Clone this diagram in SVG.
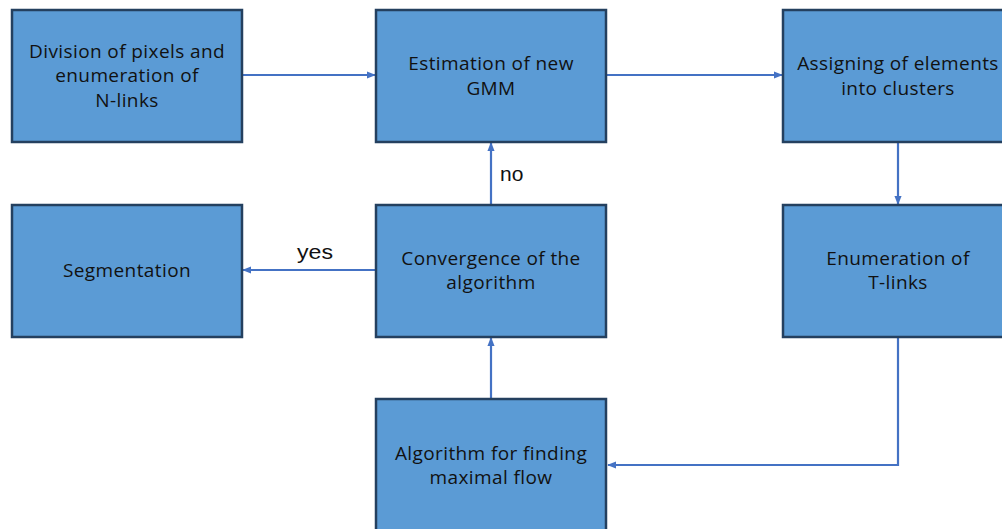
<svg xmlns="http://www.w3.org/2000/svg" width="1002" height="529" viewBox="0 0 1002 529">
<defs>
<style>
.box{fill:#5B9BD5;stroke:#24405F;stroke-width:2.5}
.t{font-family:"Open Sans","Liberation Sans",sans-serif;font-size:19px;letter-spacing:0.4px;fill:#111;text-anchor:middle}
.lbl{font-family:"Liberation Sans",Arial,sans-serif;font-size:21px;fill:#111}
.c{fill:none;stroke:#4472C4;stroke-width:2.2}
</style>
<marker id="ah" viewBox="0 0 10 10" refX="9" refY="5" markerWidth="9" markerHeight="9" markerUnits="userSpaceOnUse" orient="auto">
<path d="M0,1 L10,5 L0,9 Z" fill="#4472C4"/>
</marker>
</defs>
<rect width="1002" height="529" fill="#fff"/>
<g id="connectors">
<line class="c" x1="243" y1="75" x2="375" y2="75" marker-end="url(#ah)"/>
<line class="c" x1="607" y1="75" x2="782" y2="75" marker-end="url(#ah)"/>
<line class="c" x1="898" y1="143" x2="898" y2="204" marker-end="url(#ah)"/>
<polyline class="c" points="898,338 898,465 608,465" marker-end="url(#ah)"/>
<line class="c" x1="491" y1="398" x2="491" y2="338" marker-end="url(#ah)"/>
<line class="c" x1="491" y1="204" x2="491" y2="143" marker-end="url(#ah)"/>
<line class="c" x1="375" y1="270" x2="243" y2="270" marker-end="url(#ah)"/>
<text class="lbl" x="500" y="181">no</text>
<text class="lbl" x="297" y="259" textLength="36" lengthAdjust="spacingAndGlyphs">yes</text>
</g>
<g id="n1"><rect class="box" x="12" y="10" width="230" height="132"/>
<text class="t" x="127" y="58">Division of pixels and</text><text class="t" x="127" y="82">enumeration of</text><text class="t" x="127" y="107">N-links</text></g>
<g id="n2"><rect class="box" x="376" y="10" width="230" height="132"/>
<text class="t" x="491" y="70">Estimation of new</text><text class="t" x="491" y="95">GMM</text></g>
<g id="n3"><rect class="box" x="783" y="10" width="230" height="132"/>
<text class="t" x="898" y="70">Assigning of elements</text><text class="t" x="898" y="95">into clusters</text></g>
<g id="n4"><rect class="box" x="12" y="205" width="230" height="132"/>
<text class="t" x="127" y="277">Segmentation</text></g>
<g id="n5"><rect class="box" x="376" y="205" width="230" height="132"/>
<text class="t" x="491" y="265">Convergence of the</text><text class="t" x="491" y="289">algorithm</text></g>
<g id="n6"><rect class="box" x="783" y="205" width="230" height="132"/>
<text class="t" x="898" y="265">Enumeration of</text><text class="t" x="898" y="289">T-links</text></g>
<g id="n7"><rect class="box" x="376" y="399" width="230" height="140"/>
<text class="t" x="491" y="460">Algorithm for finding</text><text class="t" x="491" y="484">maximal flow</text></g>
</svg>
